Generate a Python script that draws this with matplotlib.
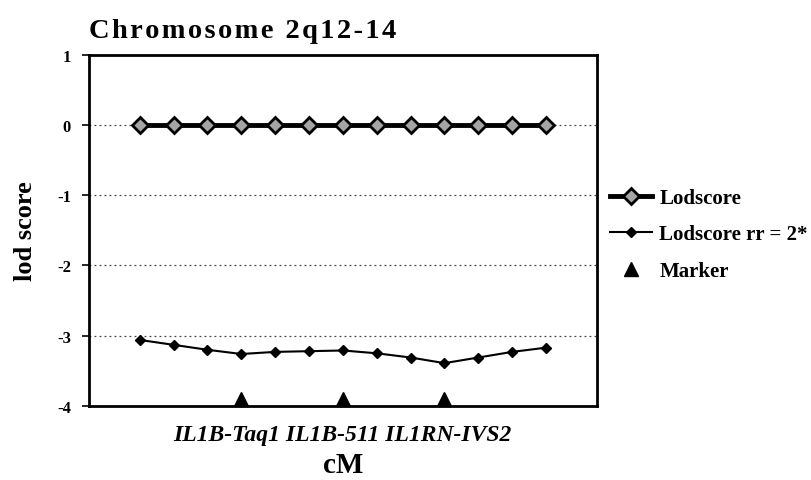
import numpy as np
import matplotlib.pyplot as plt

plt.rcParams['font.family'] = ['Liberation Serif', 'DejaVu Serif']
plt.rcParams['font.weight'] = 'bold'

positions = list(range(13))
lodscore = [0, 0, 0, 0, 0, 0, 0, 0, 0, 0, 0, 0, 0]
lodscore_rr2 = [-3.06, -3.13, -3.20, -3.26, -3.23, -3.22, -3.21,
                -3.25, -3.31, -3.39, -3.31, -3.23, -3.17]
marker_pos = [3, 6, 9]
marker_val = [-3.9, -3.9, -3.9]
marker_names = 'IL1B-Taq1 IL1B-511 IL1RN-IVS2'
title = 'Chromosome 2q12-14'

fig = plt.figure(figsize=(8.12, 4.81), dpi=100)
ax = fig.add_axes([0.1096, 0.1538, 0.6254, 0.7308])

for y in [0, -1, -2, -3]:
    ax.axhline(y, color='#444444', lw=0.9, ls=(0, (1.5, 2.5)), zorder=1)

ax.plot(positions, lodscore, color='black', lw=3.5, marker='D', ms=8,
        mfc='#a5a5a5', mec='black', mew=2, zorder=3, label='Lodscore')
ax.plot(positions, lodscore_rr2, color='black', lw=1.5, marker='D', ms=5,
        mfc='black', mec='black', zorder=3, label='Lodscore rr = 2*')
ax.plot(marker_pos, marker_val, ls='none', marker='^', ms=10, color='black',
        clip_on=False, zorder=4, label='Marker')

ax.set_xlim(-1.5, 13.5)
ax.set_ylim(-4, 1)
ax.set_yticks([1, 0, -1, -2, -3, -4])
ax.set_yticklabels(['1', '0', '-1', '-2', '-3', '-4'])
ax.set_xticks([])
ax.tick_params(axis='y', direction='out', length=5, width=1.2, labelsize=12, pad=8)
for s in ax.spines.values():
    s.set_linewidth(2)

ax.set_ylabel('lod score', fontsize=19, fontweight='bold', labelpad=14)
ax.text(6, -4.41, marker_names, ha='center', va='center', fontsize=17,
        fontweight='bold', style='italic')
ax.text(6, -4.83, 'cM', ha='center', va='center', fontsize=21, fontweight='bold')
# spaced-out title like the original
fig.text(0.1096, 0.935, '\u200a'.join(title), fontsize=20.5, fontweight='bold',
         ha='left', va='center')

ax.legend(loc='center left', bbox_to_anchor=(0.99, 0.488), frameon=False,
          fontsize=15, handlelength=2.0, handletextpad=0.35, labelspacing=0.8)

fig.savefig('out.png', dpi=100)
